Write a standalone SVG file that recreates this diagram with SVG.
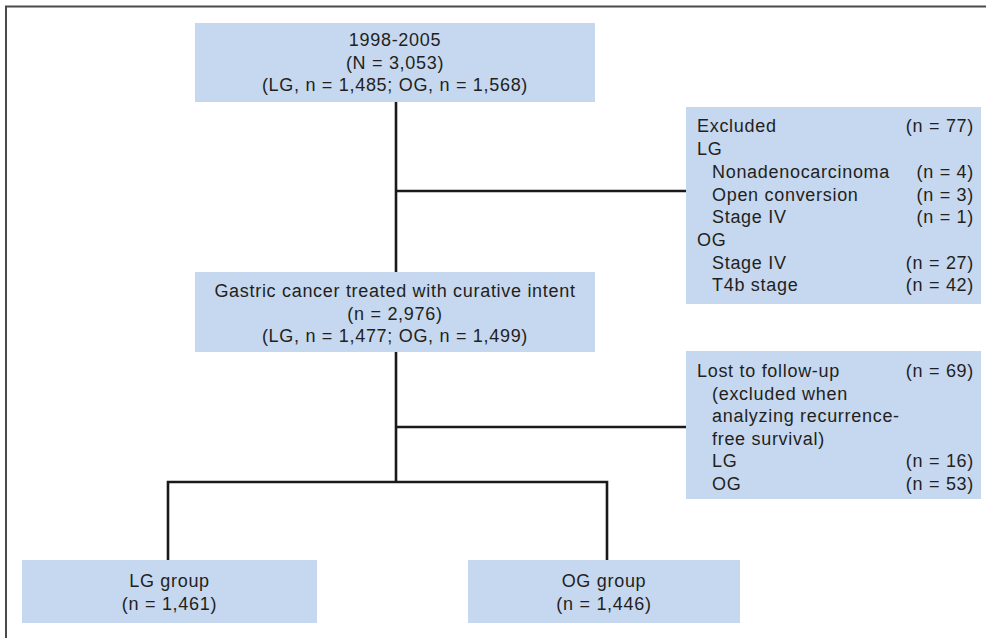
<svg xmlns="http://www.w3.org/2000/svg" width="986" height="638" viewBox="0 0 986 638">
<style>
.box{fill:#c6d8ef}
text{font-family:"Liberation Sans",Arial,sans-serif;font-size:18px;letter-spacing:0.7px;fill:#231f20}
.c{text-anchor:middle}
.r{text-anchor:end}
.ln{stroke:#1a1a1a;stroke-width:2.6;fill:none}
.fr{stroke:#4a4a4a;stroke-width:2;fill:none}
</style>
<rect width="986" height="638" fill="#fff"/>
<path class="fr" d="M6,638 V6.5 H986"/>
<g id="connectors">
<path class="ln" d="M396,102 V482"/>
<path class="ln" d="M396,191 H686"/>
<path class="ln" d="M396,427 H686"/>
<path class="ln" d="M168,560 V482 H607 V560"/>
</g>
<g id="n1">
<rect class="box" x="195" y="23" width="400" height="79"/>
<text class="c" x="395" y="46">1998-2005</text>
<text class="c" x="395" y="68.5">(N = 3,053)</text>
<text class="c" x="395" y="91">(LG, n = 1,485; OG, n = 1,568)</text>
</g>
<g id="n2">
<rect class="box" x="686" y="107" width="295" height="197"/>
<text x="697" y="132">Excluded</text><text class="r" x="974" y="132">(n = 77)</text>
<text x="697" y="155">LG</text>
<text x="712" y="178">Nonadenocarcinoma</text><text class="r" x="974" y="178">(n = 4)</text>
<text x="712" y="200.5">Open conversion</text><text class="r" x="974" y="200.5">(n = 3)</text>
<text x="712" y="223">Stage IV</text><text class="r" x="974" y="223">(n = 1)</text>
<text x="697" y="246">OG</text>
<text x="712" y="268.5">Stage IV</text><text class="r" x="974" y="268.5">(n = 27)</text>
<text x="712" y="291">T4b stage</text><text class="r" x="974" y="291">(n = 42)</text>
</g>
<g id="n3">
<rect class="box" x="195" y="272" width="400" height="80"/>
<text class="c" x="395" y="297">Gastric cancer treated with curative intent</text>
<text class="c" x="395" y="319.5">(n = 2,976)</text>
<text class="c" x="395" y="342">(LG, n = 1,477; OG, n = 1,499)</text>
</g>
<g id="n4">
<rect class="box" x="686" y="351" width="295" height="148"/>
<text x="697" y="377">Lost to follow-up</text><text class="r" x="974" y="377">(n = 69)</text>
<text x="712" y="399.5">(excluded when</text>
<text x="712" y="422">analyzing recurrence-</text>
<text x="712" y="444.5">free survival)</text>
<text x="712" y="467">LG</text><text class="r" x="974" y="467">(n = 16)</text>
<text x="712" y="489.5">OG</text><text class="r" x="974" y="489.5">(n = 53)</text>
</g>
<g id="n5">
<rect class="box" x="22" y="560" width="295" height="63"/>
<text class="c" x="169.5" y="587">LG group</text>
<text class="c" x="169.5" y="610">(n = 1,461)</text>
</g>
<g id="n6">
<rect class="box" x="468" y="560" width="272" height="63"/>
<text class="c" x="604" y="587">OG group</text>
<text class="c" x="604" y="610">(n = 1,446)</text>
</g>
</svg>
